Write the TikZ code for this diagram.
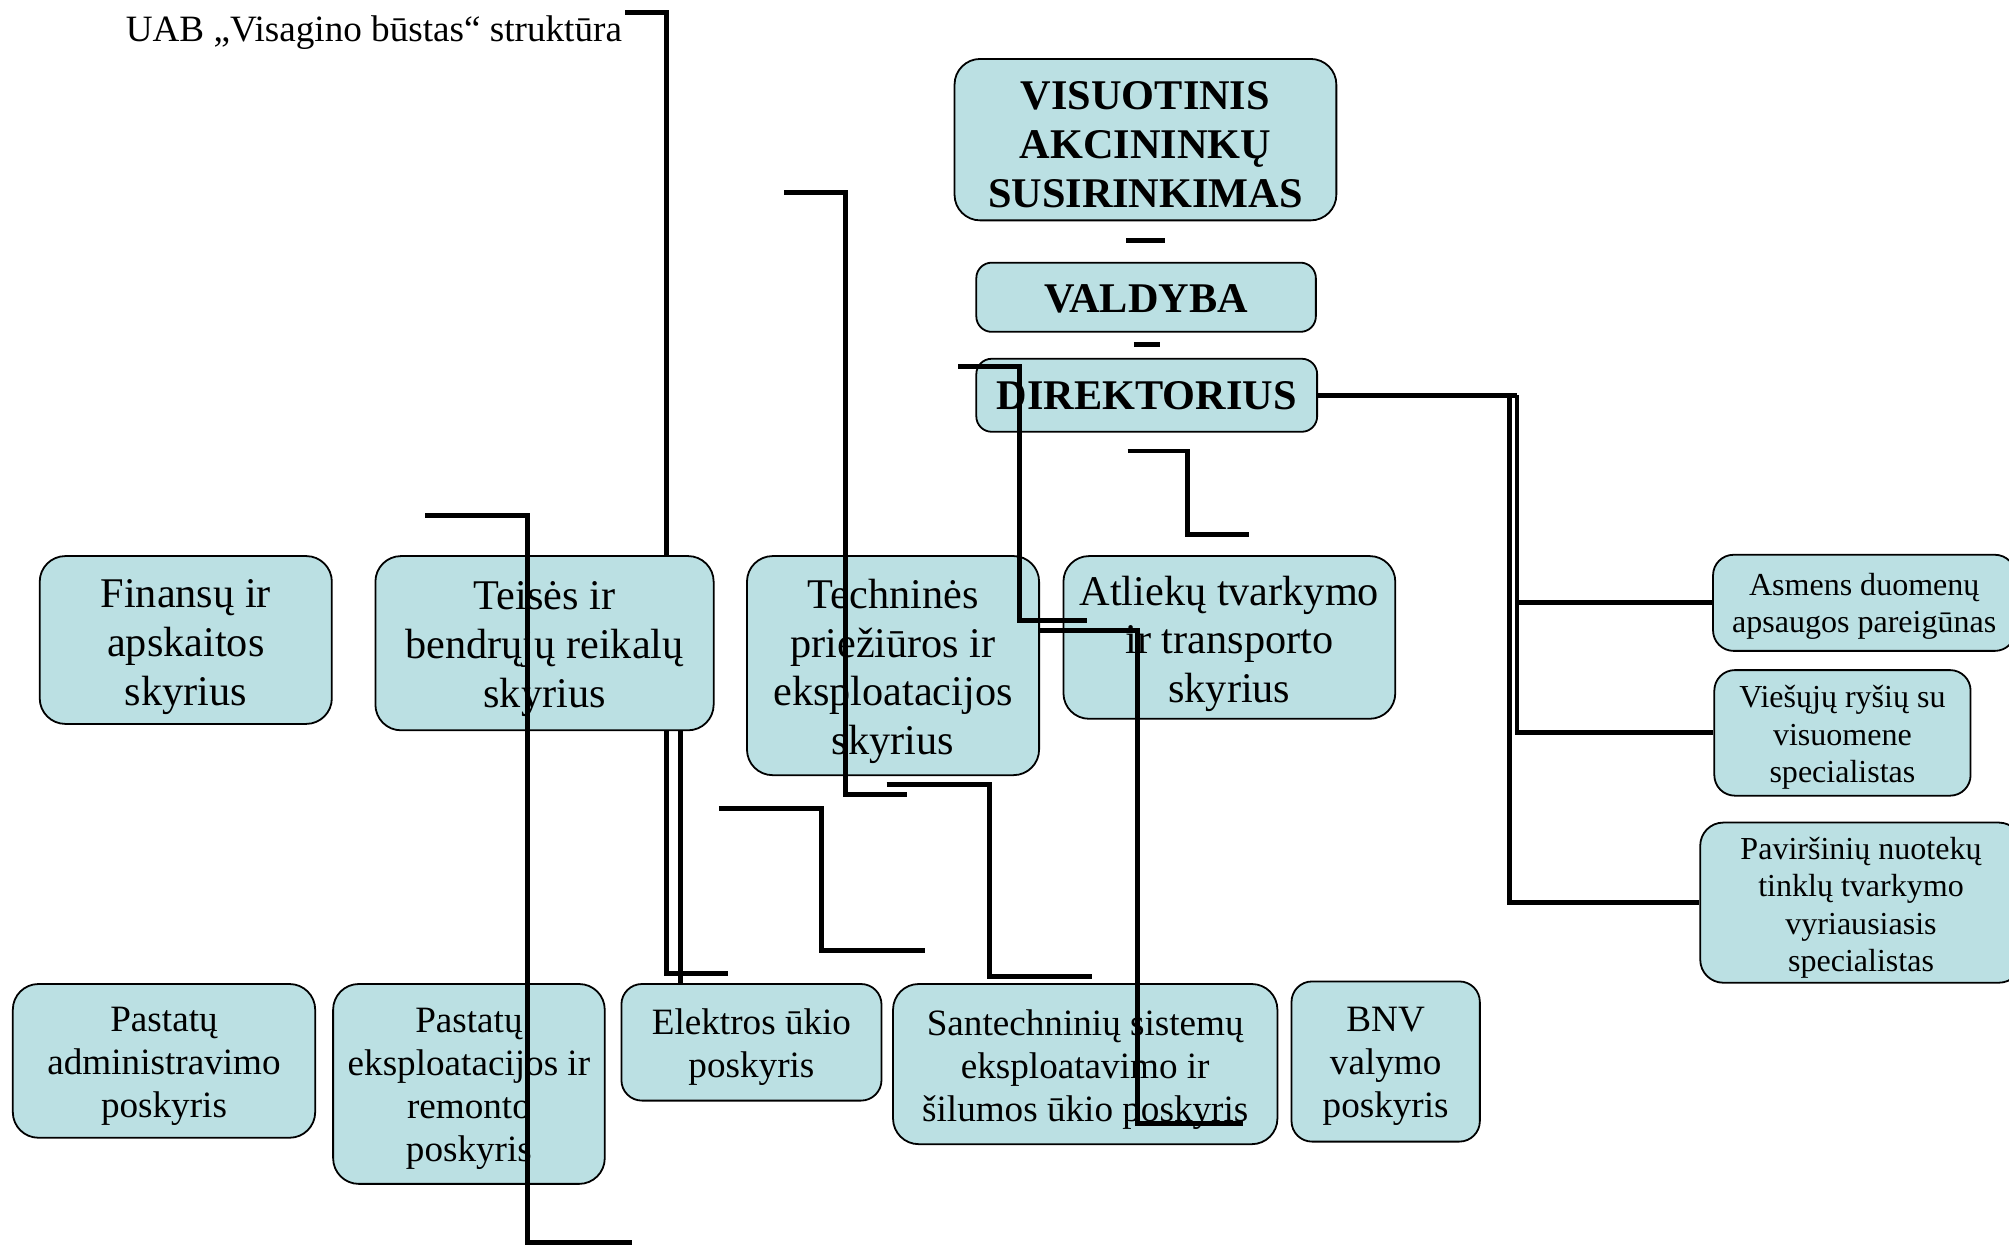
\documentclass[tikz,border=0pt]{standalone}
\usepackage{fontspec}
\setmainfont{Liberation Serif}
\definecolor{boxfill}{RGB}{187,224,227}
% #1 name, #2 extra box style, #3 text style, #4 width, #5 height, #6 centre, #7 text shift, #8 text
\newcommand\mkbox[8]{%
  \node[box, #2, minimum width=#4pt, minimum height=#5pt] (#1) at (#6) {};
  \node[inner sep=0pt, align=center, #3] (#1-t) at ([yshift=-#7pt]#1.center) {#8};}
\begin{document}
\begin{tikzpicture}[x=1pt,y=-1pt,
  box/.style={draw=black, line width=1.4pt, fill=boxfill, rounded corners=20pt, inner sep=0pt},
  big/.style={font=\fontsize{33}{38}\selectfont},
  bigb/.style={font=\fontsize{33}{38}\selectfont\bfseries},
  mid/.style={font=\fontsize{29}{33.5}\selectfont},
  sml/.style={font=\fontsize{25}{29}\selectfont},
  conn/.style={line width=3.8pt}]
\useasboundingbox (0,0) rectangle (1568,972);

% title
\node[anchor=base west, inner sep=0pt, font=\fontsize{29}{34}\selectfont] (title) at (98,32) {UAB „Visagino būstas“ struktūra};

% top boxes
\mkbox{vas}{}{bigb}{298}{126}{894,109}{4}{VISUOTINIS\\AKCININKŲ\\SUSIRINKIMAS}
\mkbox{val}{rounded corners=12pt}{bigb}{265}{54}{894.5,232}{1}{VALDYBA}
\mkbox{dir}{rounded corners=12pt}{bigb}{266}{57}{895,308.5}{0}{DIREKTORIUS}

% departments
\mkbox{fin}{}{big}{228}{131}{145,499.5}{5.5}{Finansų ir\\apskaitos\\skyrius}
\mkbox{tei}{}{big}{264}{136}{425,502}{4.5}{Teisės ir\\bendrųjų reikalų\\skyrius}
\mkbox{tec}{}{big}{228}{171}{697,519.5}{4.5}{Techninės\\priežiūros ir\\eksploatacijos\\skyrius}
\mkbox{atl}{}{big}{259}{127}{959.5,497.5}{5}{Atliekų tvarkymo\\ir transporto\\skyrius}

% right specialists
\mkbox{asm}{rounded corners=16pt}{sml}{236}{75}{1455,470.5}{3}{Asmens duomenų\\apsaugos pareigūnas}
\mkbox{vie}{rounded corners=16pt}{sml}{200}{98}{1438,572}{3.5}{Viešųjų ryšių su\\visuomene\\specialistas}
\mkbox{pav}{rounded corners=18pt}{sml}{251}{125}{1452.5,704.5}{4}{Paviršinių nuotekų\\tinklų tvarkymo\\vyriausiasis\\specialistas}

% sub-units
\mkbox{pad}{}{mid}{236}{120}{128,828}{4}{Pastatų\\administravimo\\poskyris}
\mkbox{pae}{}{mid}{212}{156}{366,846}{4}{Pastatų\\eksploatacijos ir\\remonto\\poskyris}
\mkbox{ele}{rounded corners=16pt}{mid}{203}{91}{586.5,813.5}{4}{Elektros ūkio\\poskyris}
\mkbox{san}{}{mid}{300}{125}{847,830.5}{4}{Santechninių sistemų\\eksploatavimo ir\\šilumos ūkio poskyris}
\mkbox{bnv}{rounded corners=16pt}{mid}{147}{125}{1081.5,828.5}{4}{BNV\\valymo\\poskyris}

% free connector ends
\coordinate (c1) at (488,10);
\coordinate (c2a) at (612,150); \coordinate (c2b) at (660,620); \coordinate (c2c) at (708,620);
\coordinate (c3a) at (748,286); \coordinate (c3b) at (796,484); \coordinate (c3c) at (848,484);
\coordinate (c4a) at (880,352); \coordinate (c4b) at (927,417); \coordinate (c4c) at (975,417);
\coordinate (c5b) at (888,877); \coordinate (c5c) at (970,877);
\coordinate (c6a) at (332,402); \coordinate (c6b) at (412,970); \coordinate (c6c) at (493,970);
\coordinate (c7) at (568,760);
\coordinate (c8a) at (561,631); \coordinate (c8b) at (641,742); \coordinate (c8c) at (722,742);
\coordinate (c9a) at (692,612); \coordinate (c9b) at (772,762); \coordinate (c9c) at (852,762);
\coordinate (s1a) at (879,188); \coordinate (s1b) at (909,188);
\coordinate (s2a) at (885,269); \coordinate (s2b) at (905,269);
\coordinate (r1) at (1184,308.5); \coordinate (r2) at (1178,308.5);

% connectors
\draw[conn] (s1a) -- (s1b);
\draw[conn] (s2a) -- (s2b);
\draw[conn] (c1) -| ([xshift=95pt]tei.north);
\draw[conn] (c2a) -| (c2b) -- (c2c);
\draw[conn] (c3a) -| (c3b) -- (c3c);
\draw[conn] (c4a) -| (c4b) -- (c4c);
\draw[conn] (tec.east |- 0,492) -| (c5b) -- (c5c);
\draw[conn] (c6a) -| (c6b) -- (c6c);
\draw[conn] ([xshift=95pt]tei.south) |- (c7);
\draw[conn] ([xshift=106pt]tei.south) -- ([xshift=-55.5pt]ele.north);
\draw[conn] (c8a) -| (c8b) -- (c8c);
\draw[conn] (c9a) -| (c9b) -- (c9c);
\draw[conn] (dir.east) -- (r1);
\draw[conn] (r1) |- (asm.west);
\draw[conn] (r1) |- (vie.west);
\draw[conn] (r2) |- (pav.west);
\end{tikzpicture}
\end{document}
